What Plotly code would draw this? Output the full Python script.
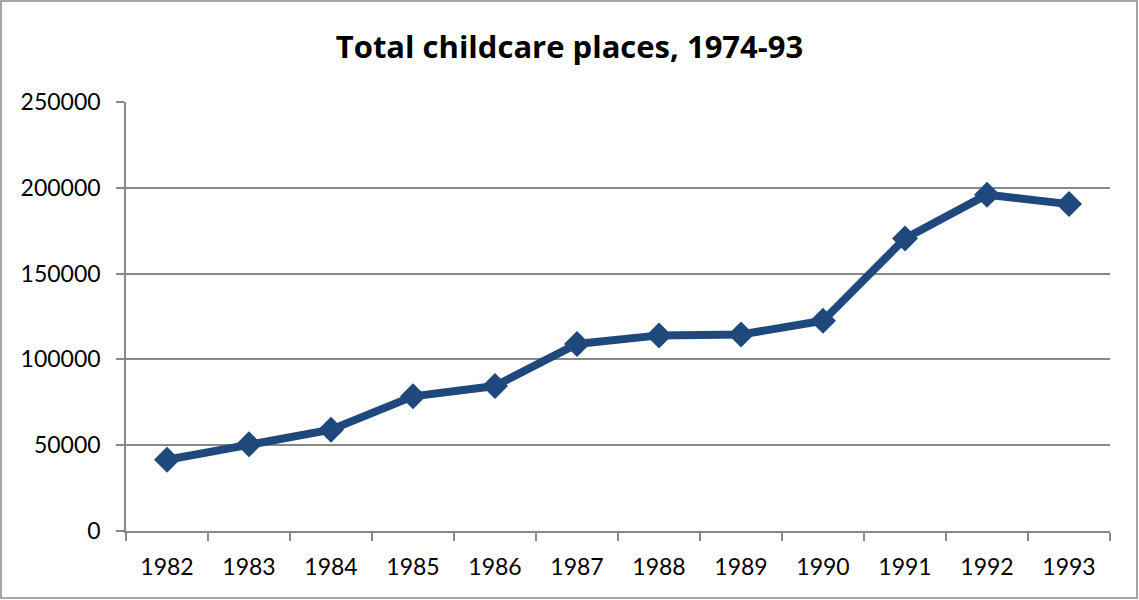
import plotly.graph_objects as go

years = ["1982", "1983", "1984", "1985", "1986", "1987", "1988", "1989", "1990", "1991", "1992", "1993"]
places = [41500, 50500, 59000, 78500, 84500, 109000, 114000, 114500, 122500, 170500, 196000, 190500]
y_ticks = [0, 50000, 100000, 150000, 200000, 250000]

W, H = 1139, 600
L, R, T, B = 126, 29, 102, 69
pw, ph = W - L - R, H - T - B

fig = go.Figure()
fig.add_trace(go.Scatter(
    x=years, y=places, mode="lines+markers",
    line=dict(color="#1F497D", width=8),
    marker=dict(symbol="diamond", size=20, color="#1F497D"),
    showlegend=False,
))

font = "Lato, sans-serif"
fig.update_layout(
    width=W, height=H,
    margin=dict(l=L, r=R, t=T, b=B),
    paper_bgcolor="white", plot_bgcolor="white",
    title=dict(text="<b>Total childcare places, 1974-93</b>", x=0.5, xanchor="center",
               y=1 - 47 / H, yanchor="middle",
               font=dict(family="Open Sans, sans-serif", size=31, color="black")),
    xaxis=dict(type="category", range=[-0.5, 11.5], tickson="boundaries",
               ticks="outside", ticklen=8, tickcolor="#888888", tickwidth=1.5,
               ticklabelstandoff=15,
               showline=True, linecolor="#888888", linewidth=1.5,
               showgrid=False, tickfont=dict(family=font, size=23, color="black")),
    yaxis=dict(range=[0, 250000], tickvals=y_ticks, ticktext=[str(v) for v in y_ticks],
               ticks="outside", ticklen=8, tickcolor="#888888", tickwidth=1.5,
               ticklabelstandoff=11,
               showline=True, linecolor="#888888", linewidth=1.5,
               showgrid=True, gridcolor="#888888", gridwidth=1.5, zeroline=False,
               tickfont=dict(family=font, size=23, color="black")),
    shapes=[dict(type="rect", xref="paper", yref="paper",
                 x0=(1 - L) / pw, x1=(W - 2 - L) / pw,
                 y0=(H - B - (H - 2)) / ph, y1=(H - B - 1) / ph,
                 line=dict(color="#888888", width=1.5), fillcolor="rgba(0,0,0,0)", layer="below")],
)

fig.write_html("out.html", config={"displayModeBar": False},
               post_script="document.body.style.margin='0';document.body.style.overflow='hidden';")
